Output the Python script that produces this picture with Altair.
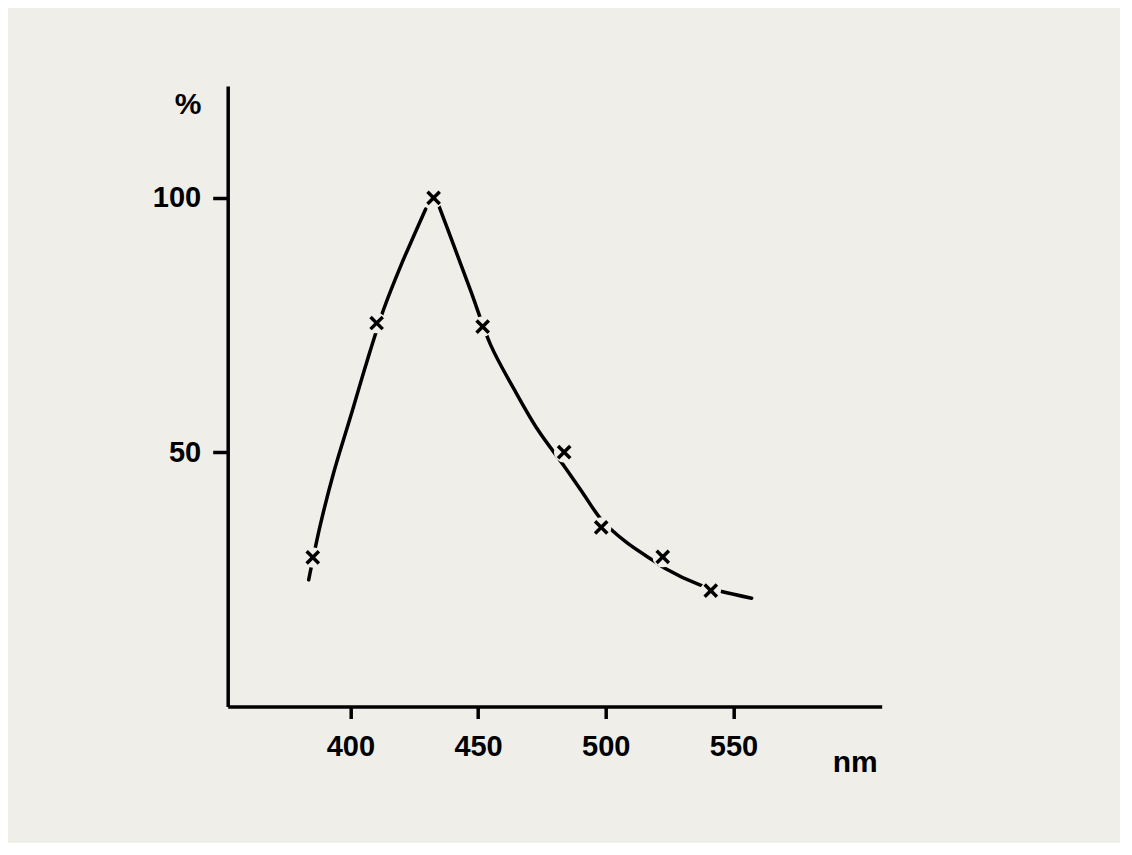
import altair as alt
import pandas as pd

# Measured points (crosses)
cross_nm = [385.3, 410.3, 432.6, 451.8, 483.7, 498.2, 522.3, 541.1]
cross_pct = [29.3, 75.4, 100.0, 74.7, 50.0, 35.2, 29.4, 22.8]

# Hand-drawn curve, rising branch
rise_nm = [383.7, 388.3, 393.5, 400.1, 406.6, 413.2, 419.7, 424.9, 429.5]
rise_pct = [24.9, 35.8, 46.0, 57.0, 68.0, 78.3, 86.6, 92.6, 97.8]

# Hand-drawn curve, falling branch
fall_nm = [434.7, 440.6, 447.2, 455.0, 464.2, 473.4, 483.8, 491.0, 498.2, 508.0,
           519.2, 523.1, 536.8, 545.3, 557.1]
fall_pct = [98.4, 90.5, 81.6, 71.0, 62.3, 54.4, 47.2, 42.0, 36.8, 32.3,
            28.5, 27.2, 23.9, 22.6, 21.3]

x_ticks = [400, 450, 500, 550]
y_ticks = [50, 100]

BG = "#efeee9"
FONT = "Liberation Sans"

curve = pd.concat([
    pd.DataFrame({"nm": rise_nm, "pct": rise_pct, "seg": "rise"}),
    pd.DataFrame({"nm": fall_nm, "pct": fall_pct, "seg": "fall"}),
])
pts = pd.DataFrame({"nm": cross_nm, "pct": cross_pct})

xscale = alt.Scale(domain=[352, 608], nice=False, zero=False)
yscale = alt.Scale(domain=[0, 122], nice=False, zero=False)

xaxis = alt.Axis(values=x_ticks, title="nm", tickSize=12, labelPadding=14,
                 titleX=627, titleY=65, titleAlign="center",
                 titleBaseline="alphabetic", titleAngle=0)
yaxis = alt.Axis(values=y_ticks, title="%", tickSize=15, labelPadding=12,
                 titleX=-40, titleY=18, titleAlign="center",
                 titleBaseline="middle", titleAngle=0)

line = alt.Chart(curve).mark_line(
    color="black", strokeWidth=3.5, interpolate="catmull-rom", strokeCap="round"
).encode(
    x=alt.X("nm:Q", scale=xscale, axis=xaxis),
    y=alt.Y("pct:Q", scale=yscale, axis=yaxis),
    detail="seg:N",
)

# background-coloured halo that leaves the small gap round each cross
mask = alt.Chart(pts).mark_point(
    shape="circle", filled=True, fill=BG, stroke=BG, strokeWidth=0,
    opacity=1, fillOpacity=1, size=420
).encode(
    x=alt.X("nm:Q", scale=xscale),
    y=alt.Y("pct:Q", scale=yscale),
)

crosses = alt.Chart(pts).mark_point(
    shape="M-1,-1L1,1M1,-1L-1,1", filled=False, color="black",
    strokeWidth=3.5, size=150, opacity=1
).encode(
    x=alt.X("nm:Q", scale=xscale),
    y=alt.Y("pct:Q", scale=yscale),
)

chart = alt.layer(line, mask, crosses).properties(
    width=654, height=620.5,
    background=BG,
    autosize=alt.AutoSizeParams(type="none"),
    padding={"left": 219.7, "top": 78, "right": 238, "bottom": 136},
).configure_view(stroke=None).configure_axis(
    grid=False,
    domainColor="black", domainWidth=3.5,
    tickColor="black", tickWidth=3.5,
    labelFont=FONT, labelFontSize=29, labelFontWeight="bold", labelColor="black",
    titleFont=FONT, titleFontSize=30, titleFontWeight="bold", titleColor="black",
)

chart.save("out.html", embed_options={"renderer": "svg", "actions": False})
